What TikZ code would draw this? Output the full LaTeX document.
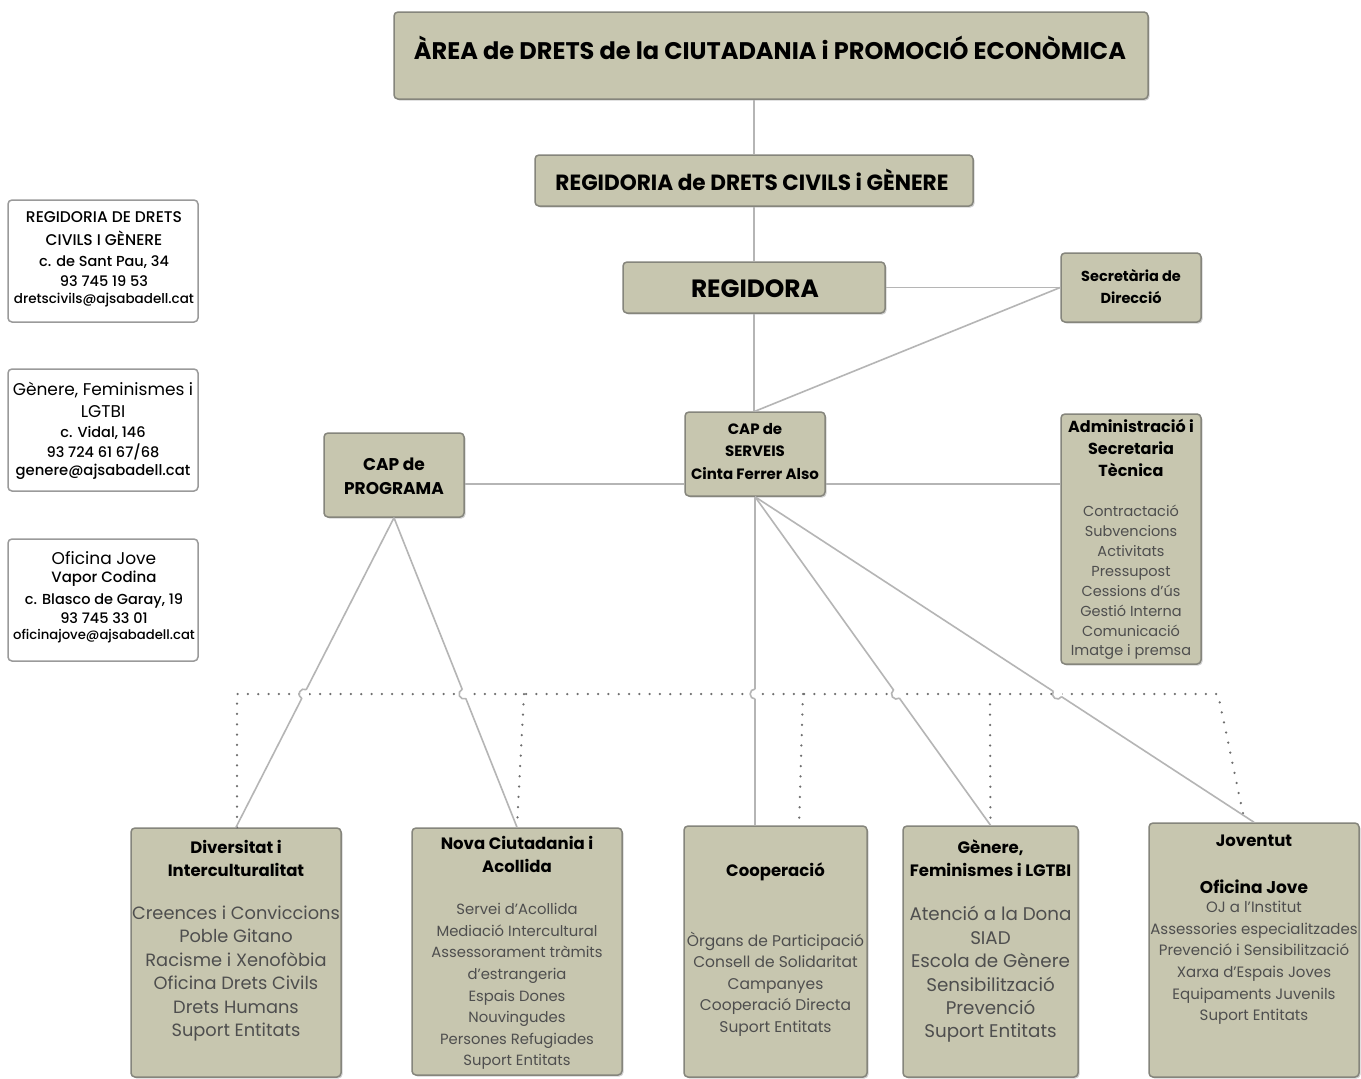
\documentclass[tikz,border=0pt]{standalone}
\usepackage{fontspec}
\setmainfont{Poppins}
\IfFontExistsTF{Poppins Medium}{\newfontfamily\medf{Poppins Medium}}{\newfontfamily\medf{Poppins}}
\usetikzlibrary{calc,shadows}
\definecolor{boxfill}{HTML}{C7C6AF}
\definecolor{boxline}{HTML}{85857C}
\definecolor{connc}{HTML}{B5B5B5}
\definecolor{dotc}{HTML}{6E6E6E}
\definecolor{itemc}{HTML}{4E4E4E}
\definecolor{cline}{HTML}{9A9A9A}
\newcommand\fs[2]{\fontsize{#1}{#2}\selectfont}
\newcommand\hop[3]{%
  \fill[white] (#1) circle (5pt);
  \draw[conn] let \p1=($(#3)-(#2)$), \n1={atan2(\y1,\x1)} in
    ($(#1)!5pt!(#2)$) arc[start angle=\n1+180, end angle=\n1+360, radius=5pt];
}
\tikzset{
  box/.style={draw=boxline, fill=boxfill, line width=1.5pt, rounded corners=4pt, inner sep=0pt,
    drop shadow={shadow xshift=1.5pt, shadow yshift=-1.5pt, opacity=0.3, fill=black!60}},
  contact/.style={draw=cline, fill=white, line width=1.5pt, rounded corners=4pt, inner sep=0pt},
  conn/.style={draw=connc, line width=1.6pt},
  dots/.style={draw=dotc, line width=2.5pt, dash pattern=on 0pt off 10.3pt, line cap=round},
  txt/.style={align=center, inner sep=0pt, text=black},
  item/.style={align=center, inner sep=0pt, text=itemc},
}
\begin{document}
\begin{tikzpicture}[x=1pt,y=1pt]
\useasboundingbox (0,0) rectangle (1361,-1079);
\fill[white] (0,0) rectangle (1361,-1079);

% ---- top hierarchy
\node[box, minimum width=754, minimum height=87] (area) at (771,-55.5) {};
\node[txt, font=\fs{24}{28}\bfseries] (areat) at (770,-48) {\resizebox{712pt}{\height}{ÀREA de DRETS de la CIUTADANIA i PROMOCIÓ ECONÒMICA}};
\node[box, minimum width=438, minimum height=51] (regia) at (754,-180.5) {};
\node[txt, font=\fs{22}{26}\bfseries] (regiat) at (752,-180) {\resizebox{393pt}{\height}{REGIDORIA de DRETS CIVILS i GÈNERE}};
\node[box, minimum width=262, minimum height=51] (regora) at (754,-287.5) {};
\node[txt, font=\fs{25}{28}\bfseries] (regorat) at (755,-289) {\resizebox{128pt}{\height}{REGIDORA}};
\node[box, minimum width=140, minimum height=69] (secr) at (1131,-287.5) {};
\node[txt, font=\fs{14.5}{22}\bfseries] (secrt) at (1131,-287) {Secretària de\\Direcció};
\node[box, minimum width=140, minimum height=84] (capserv) at (755,-454) {};
\node[txt, font=\fs{15}{22.5}\bfseries] (capservt) at (755,-451.5) {CAP de\\SERVEIS\\Cinta Ferrer Also};
\node[box, minimum width=140, minimum height=84] (capprog) at (394,-475) {};
\node[txt, font=\fs{17}{24}\bfseries] (capprogt) at (394,-476) {CAP de\\PROGRAMA};
\node[box, minimum width=140, minimum height=250] (admin) at (1131,-539) {};
\node[txt, font=\fs{16}{22}\bfseries] (admint) at (1131,-448) {Administració i\\Secretaria\\Tècnica};
\node[item, font=\fs{14.5}{19.9}] (admini) at (1131,-582.5) {Contractació\\Subvencions\\Activitats\\Pressupost\\Cessions d'ús\\Gestió Interna\\Comunicació\\Imatge i premsa};

% ---- contact boxes
\node[contact, minimum width=190, minimum height=122] (c1) at (103,-261) {};
\node[txt, font=\fs{15.5}{23}\medf] (c1a) at (104,-228.5) {REGIDORIA DE DRETS\\CIVILS I GÈNERE};
\node[txt, font=\fs{14.5}{20}\medf] (c1b) at (104,-271) {c. de Sant Pau, 34\\93 745 19 53};
\node[txt, font=\fs{13.5}{19.5}\medf] (c1c) at (104,-300) {dretscivils@ajsabadell.cat};
\node[contact, minimum width=190, minimum height=122] (c2) at (103,-430) {};
\node[txt, font=\fs{17}{22}] (c2a) at (103,-400) {Gènere, Feminismes i\\LGTBI};
\node[txt, font=\fs{14.5}{20}\medf] (c2b) at (103,-443) {c. Vidal, 146\\93 724 61 67/68};
\node[txt, font=\fs{14.8}{19.5}\medf] (c2c) at (103,-472) {genere@ajsabadell.cat};
\node[contact, minimum width=190, minimum height=122] (c3) at (103,-600) {};
\node[txt, font=\fs{17}{20}] (c3a) at (104,-558) {Oficina Jove};
\node[txt, font=\fs{15}{19}\medf] (c3b) at (104,-579) {Vapor Codina};
\node[txt, font=\fs{14.5}{19}\medf] (c3c) at (104,-608.5) {c. Blasco de Garay, 19\\93 745 33 01};
\node[txt, font=\fs{13.2}{19}\medf] (c3d) at (104,-636) {oficinajove@ajsabadell.cat};

% ---- bottom boxes
\node[box, minimum width=210, minimum height=249] (div) at (236,-952.5) {};
\node[txt, font=\fs{16.5}{23}\bfseries] (divt) at (236,-858.5) {Diversitat i\\Interculturalitat};
\node[item, font=\fs{17.8}{23.4}] (divi) at (236,-973.5) {Creences i Conviccions\\Poble Gitano\\Racisme i Xenofòbia\\Oficina Drets Civils\\Drets Humans\\Suport Entitats};
\node[box, minimum width=210, minimum height=247] (nova) at (517,-951.5) {};
\node[txt, font=\fs{16.5}{23}\bfseries] (novat) at (517,-854.5) {Nova Ciutadania i\\Acollida};
\node[item, font=\fs{14.8}{21.6}] (novai) at (517,-986.5) {Servei d'Acollida\\Mediació Intercultural\\Assessorament tràmits\\d'estrangeria\\Espais Dones\\Nouvingudes\\Persones Refugiades\\Suport Entitats};
\node[box, minimum width=183, minimum height=251] (coop) at (775.5,-951.5) {};
\node[txt, font=\fs{16.5}{23}\bfseries] (coopt) at (775.5,-872) {Cooperació};
\node[item, font=\fs{15.5}{21.5}] (coopi) at (775.5,-984) {Òrgans de Participació\\Consell de Solidaritat\\Campanyes\\Cooperació Directa\\Suport Entitats};
\node[box, minimum width=175, minimum height=251] (gen) at (990.5,-951.5) {};
\node[txt, font=\fs{16.5}{23}\bfseries] (gent) at (990.5,-858.5) {Gènere,\\Feminismes i LGTBI};
\node[item, font=\fs{18.3}{23.4}] (geni) at (990.5,-974.5) {Atenció a la Dona\\SIAD\\Escola de Gènere\\Sensibilització\\Prevenció\\Suport Entitats};
\node[box, minimum width=210, minimum height=254] (jov) at (1254,-950) {};
\node[txt, font=\fs{16.5}{23}\bfseries] (jovt) at (1254,-841) {Joventut};
\node[txt, font=\fs{17}{23}\bfseries] (jovo) at (1254,-887) {Oficina Jove};
\node[item, font=\fs{15}{21.6}] (jovi) at (1254,-963) {OJ a l'Institut\\Assessories especialitzades\\Prevenció i Sensibilització\\Xarxa d'Espais Joves\\Equipaments Juvenils\\Suport Entitats};

% ---- dotted grouping line
\coordinate (dl) at (237,-694);
\coordinate (dr) at (1218,-694);
\coordinate (d2) at (524,-694);
\coordinate (d3) at (803,-694);
\coordinate (d4) at (990,-694);
\coordinate (coopd) at (799,-826);
\coordinate (jovd) at (1245,-823);
\draw[dots] (div.north -| dl) -- (dl) -- (dr) -- (jovd);
\draw[dots] (d2) -- (nova.north);
\draw[dots] (d3) -- (coopd);
\draw[dots] (d4) -- (gen.north);

% ---- connectors
\coordinate (hl) at (0,-484);
\coordinate (coopin) at (capserv.south |- coop.north);
\draw[conn] (regia.north) -- (regia.north |- area.south);
\draw[conn] (regora.north) -- (regora.north |- regia.south);
\draw[conn] (regora.south) -- (regora.south |- capserv.north);
\draw[conn] (regora.east) -- (secr.west);
\draw[conn] (secr.west) -- (capserv.north);
\draw[conn] (capprog.east |- hl) -- (capserv.west |- hl);
\draw[conn] (capserv.east |- hl) -- (admin.west |- hl);
\draw[conn] (capprog.south) -- (div.north);
\draw[conn] (capprog.south) -- (nova.north);
\draw[conn] (capserv.south) -- (coopin);
\draw[conn] (capserv.south) -- (gen.north);
\draw[conn] (capserv.south) -- (jov.north);

% ---- line jumps over the dotted line
\coordinate (h1) at (intersection of capprog.south--div.north and dl--dr);
\coordinate (h2) at (intersection of capprog.south--nova.north and dl--dr);
\coordinate (h3) at (intersection of capserv.south--coopin and dl--dr);
\coordinate (h4) at (intersection of capserv.south--gen.north and dl--dr);
\coordinate (h5) at (intersection of capserv.south--jov.north and dl--dr);
\hop{h1}{capprog.south}{div.north}
\hop{h2}{capprog.south}{nova.north}
\hop{h3}{capserv.south}{coopin}
\hop{h4}{capserv.south}{gen.north}
\hop{h5}{capserv.south}{jov.north}
\end{tikzpicture}
\end{document}
